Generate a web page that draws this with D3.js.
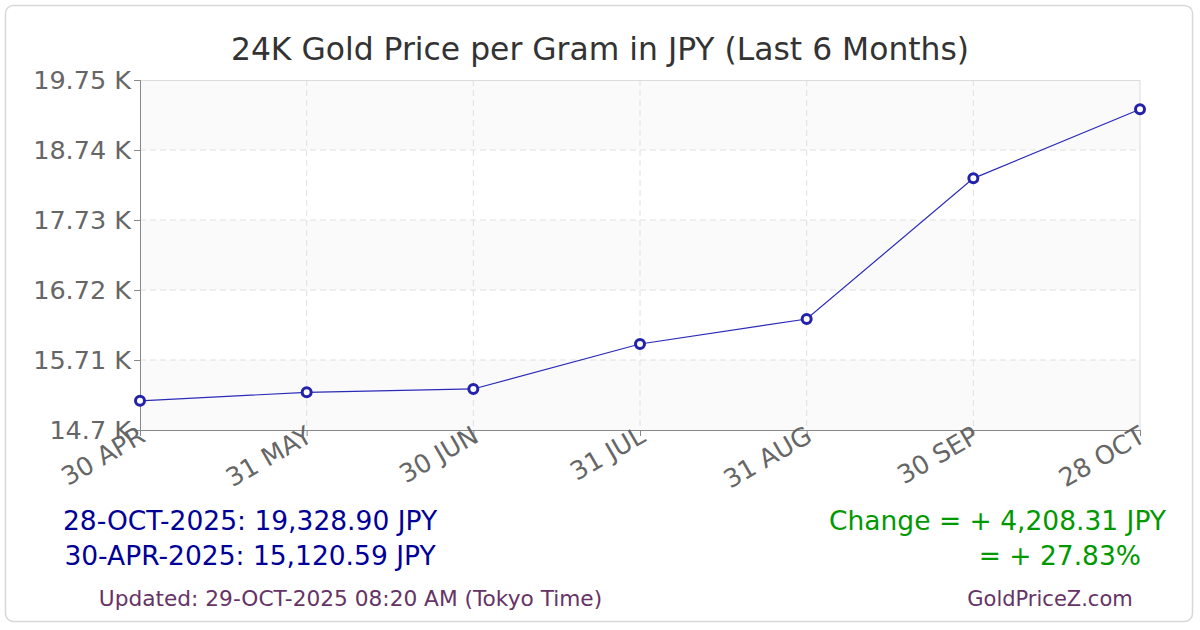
<!DOCTYPE html>
<html>
<head>
<meta charset="utf-8">
<script src="https://cdn.jsdelivr.net/npm/d3@7"></script>
<style>
  html, body { margin: 0; padding: 0; background: #fff; }
  svg { display: block; font-family: 'DejaVu Sans', Verdana, sans-serif; }
</style>
</head>
<body>
<div id="chart"></div>
<script>
// Chart data
const dates = ['30 APR', '31 MAY', '30 JUN', '31 JUL', '31 AUG', '30 SEP', '28 OCT'];
const prices = [15120.59, 15244, 15292, 15941, 16302, 18331, 19328.90];
const yTicks = [14700, 15710, 16720, 17730, 18740, 19750];
const yTickLabels = ['14.7 K', '15.71 K', '16.72 K', '17.73 K', '18.74 K', '19.75 K'];

const W = 1200, H = 630;
const margin = { top: 80, right: 60, bottom: 200, left: 140 };
const plotW = W - margin.left - margin.right;
const plotH = H - margin.top - margin.bottom;

const svg = d3.select('#chart').append('svg')
  .attr('width', W)
  .attr('height', H);

// outer frame
svg.append('rect')
  .attr('x', 5.5).attr('y', 5.5)
  .attr('width', 1187).attr('height', 616)
  .attr('rx', 8)
  .attr('fill', '#fff')
  .attr('stroke', '#d8d8d8')
  .attr('stroke-width', 1.5);

// title
svg.append('text')
  .attr('x', 600).attr('y', 60)
  .attr('text-anchor', 'middle')
  .attr('font-size', 31.4)
  .attr('fill', '#333')
  .text('24K Gold Price per Gram in JPY (Last 6 Months)');

const x = d3.scalePoint().domain(dates).range([0, plotW]);
const y = d3.scaleLinear().domain([yTicks[0], yTicks[yTicks.length - 1]]).range([plotH, 0]);

const g = svg.append('g').attr('transform', `translate(${margin.left},${margin.top})`);

// alternating bands
const bands = d3.range(yTicks.length - 1);
g.selectAll('.band')
  .data(bands)
  .enter().append('rect')
  .attr('x', 0)
  .attr('y', i => y(yTicks[i + 1]))
  .attr('width', plotW)
  .attr('height', i => y(yTicks[i]) - y(yTicks[i + 1]))
  .attr('fill', i => (i % 2 === 0 ? '#fafafa' : '#fff'));

// grid lines
g.selectAll('.hgrid')
  .data(yTicks.slice(1, -1))
  .enter().append('line')
  .attr('x1', 0).attr('x2', plotW)
  .attr('y1', d => y(d)).attr('y2', d => y(d))
  .attr('stroke', '#e0e0e0')
  .attr('stroke-dasharray', '6,4');

g.selectAll('.vgrid')
  .data(dates.slice(1, -1))
  .enter().append('line')
  .attr('x1', d => x(d)).attr('x2', d => x(d))
  .attr('y1', 0).attr('y2', plotH)
  .attr('stroke', '#e0e0e0')
  .attr('stroke-dasharray', '6,4');

// top / right border
g.append('path')
  .attr('d', `M0,0.5H${plotW}V${plotH}`)
  .attr('fill', 'none')
  .attr('stroke', '#dcdcdc');

// axes
const yAxis = g.append('g')
  .call(d3.axisLeft(y).tickValues(yTicks).tickFormat((d, i) => yTickLabels[i]).tickSize(6).tickPadding(3));
const xAxis = g.append('g')
  .attr('transform', `translate(0,${plotH})`)
  .call(d3.axisBottom(x).tickSize(6).tickPadding(4));

[yAxis, xAxis].forEach(a => {
  a.select('.domain').attr('stroke', '#888');
  a.selectAll('.tick line').attr('stroke', '#888');
  a.selectAll('text').attr('fill', '#666').attr('font-size', 25.5)
    .attr('font-family', "'DejaVu Sans', Verdana, sans-serif");
});

xAxis.selectAll('text')
  .attr('text-anchor', 'end')
  .attr('dy', '0.35em')
  .attr('transform', 'translate(2,3) rotate(-30)')
  .attr('y', 0)
  .attr('x', 0);

// line
const line = d3.line()
  .x((d, i) => x(dates[i]))
  .y(d => y(d));

g.append('path')
  .datum(prices)
  .attr('fill', 'none')
  .attr('stroke', '#2a2ab8')
  .attr('stroke-width', 1.2)
  .attr('d', line);

g.selectAll('.pt')
  .data(prices)
  .enter().append('circle')
  .attr('cx', (d, i) => x(dates[i]))
  .attr('cy', d => y(d))
  .attr('r', 4.5)
  .attr('fill', '#fff')
  .attr('stroke', '#2222aa')
  .attr('stroke-width', 3);

// footer text
const first = prices[0], last = prices[prices.length - 1];
const fmt = d3.format(',.2f');
const change = last - first;

const footer = svg.append('g');
footer.append('text')
  .attr('x', 250).attr('y', 530)
  .attr('text-anchor', 'middle').attr('font-size', 26.5).attr('fill', '#000099')
  .text(`28-OCT-2025: ${fmt(last)} JPY`);
footer.append('text')
  .attr('x', 250).attr('y', 565)
  .attr('text-anchor', 'middle').attr('font-size', 26.5).attr('fill', '#000099')
  .text(`30-APR-2025: ${fmt(first)} JPY`);
footer.append('text')
  .attr('x', 1166).attr('y', 530)
  .attr('text-anchor', 'end').attr('font-size', 26.5).attr('fill', '#009900')
  .text(`Change = + ${fmt(change)} JPY`);
footer.append('text')
  .attr('x', 1141).attr('y', 565)
  .attr('text-anchor', 'end').attr('font-size', 26.5).attr('fill', '#009900')
  .text(`= + ${d3.format('.2f')(change / first * 100)}%`);
footer.append('text')
  .attr('x', 350.5).attr('y', 606)
  .attr('text-anchor', 'middle').attr('font-size', 21.7).attr('fill', '#663366')
  .text('Updated: 29-OCT-2025 08:20 AM (Tokyo Time)');
footer.append('text')
  .attr('x', 1050).attr('y', 606)
  .attr('text-anchor', 'middle').attr('font-size', 21).attr('fill', '#663366')
  .text('GoldPriceZ.com');
</script>
</body>
</html>
